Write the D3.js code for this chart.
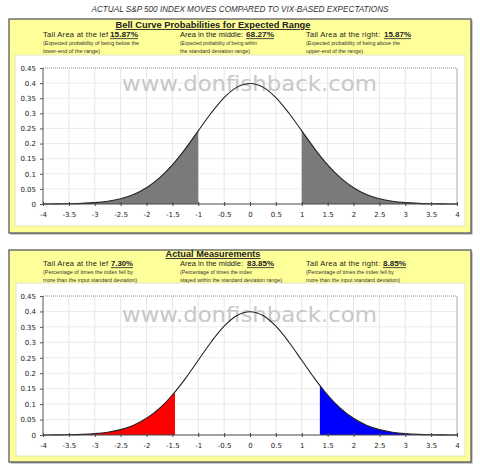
<!DOCTYPE html>
<html><head><meta charset="utf-8">
<script src="https://cdn.jsdelivr.net/npm/d3@7"></script>
<style>body{margin:0;background:#fff}svg{display:block}text{font-family:"DejaVu Sans",Verdana,sans-serif}.hd{font-family:"Liberation Sans",Arial,sans-serif}</style>
</head><body><svg id="c" width="480" height="469"></svg>
<script>
const mainTitle = "ACTUAL S&P 500 INDEX MOVES COMPARED TO VIX-BASED EXPECTATIONS";
const panelTitles = ["Bell Curve Probabilities for Expected Range", "Actual Measurements"];
const areaLabels = ["Tail Area at the lef", "Area in the middle:", "Tail Area at the right:"];
const expectedPct = ["15.87%", "68.27%", "15.87%"];
const actualPct = ["7.30%", "83.85%", "8.85%"];
const expectedNotes = [["(Expected probability of being below the", "lower-end of the range)"], ["(Expected probability of being within", "the standard deviation range)"], ["(Expected probability of being above the", "upper-end of the range)"]];
const actualNotes = [["(Percentage of times the index fell by", "more than the input standard deviation)"], ["(Percentage of times the index", "stayed within the standard deviation range)"], ["(Percentage of times the index fell by", "more than the input standard deviation)"]];
const xTickVals = [-4, -3.5, -3, -2.5, -2, -1.5, -1, -0.5, 0, 0.5, 1, 1.5, 2, 2.5, 3, 3.5, 4];
const yTickVals = [0, 0.05, 0.1, 0.15, 0.2, 0.25, 0.3, 0.35, 0.4, 0.45];
const curveX = [-4, -3.75, -3.5, -3.25, -3, -2.75, -2.5, -2.25, -2, -1.75, -1.5, -1.25, -1, -0.75, -0.5, -0.25, 0, 0.25, 0.5, 0.75, 1, 1.25, 1.5, 1.75, 2, 2.25, 2.5, 2.75, 3, 3.25, 3.5, 3.75, 4];
const curveY = [0.0001, 0.0004, 0.0009, 0.0020, 0.0044, 0.0091, 0.0175, 0.0317, 0.0540, 0.0863, 0.1295, 0.1826, 0.2420, 0.3011, 0.3521, 0.3867, 0.3989, 0.3867, 0.3521, 0.3011, 0.2420, 0.1826, 0.1295, 0.0863, 0.0540, 0.0317, 0.0175, 0.0091, 0.0044, 0.0020, 0.0009, 0.0004, 0.0001];
const expectedCuts = [-1, 1];
const actualCuts = [-1.45, 1.35];
const expectedFills = ["#7a7a7a", "#7a7a7a"];
const actualFills = ["#ff0000", "#0000ff"];
const watermark = "www.donfishback.com";

const svg = d3.select("#c");
svg.append("text").attr("class", "hd").attr("x", 240).attr("y", 12).attr("text-anchor", "middle")
  .attr("font-size", 8.5).attr("font-style", "italic").attr("fill", "#333")
  .attr("textLength", 297).attr("lengthAdjust", "spacingAndGlyphs").text(mainTitle);

const defs = svg.append("defs");
const pts = curveX.map((x, i) => ({x: x, y: curveY[i]}));

function drawPanel(o) {
  const g = svg.append("g");
  g.append("rect").attr("x", o.box[0] + 1.5).attr("y", o.box[1] + 1.5).attr("width", o.box[2]).attr("height", o.box[3])
    .attr("fill", "#999");
  g.append("rect").attr("x", o.box[0]).attr("y", o.box[1]).attr("width", o.box[2]).attr("height", o.box[3])
    .attr("fill", "#ffff99").attr("stroke", "#666").attr("stroke-width", 1.4);
  g.append("rect").attr("x", o.inner[0]).attr("y", o.inner[1]).attr("width", o.inner[2]).attr("height", o.inner[3])
    .attr("fill", "#fff").attr("stroke", "#e4e4c0").attr("stroke-width", 1);
  // header
  g.append("text").attr("class", "hd").attr("x", 213).attr("y", o.titleY).attr("text-anchor", "middle").attr("font-size", 9)
    .attr("font-weight", "bold").attr("fill", "#222").attr("text-decoration", "underline")
    .attr("textLength", o.titleW).attr("lengthAdjust", "spacingAndGlyphs").text(o.title);
  const colX = [43, 180, 306];
  const labW = [65, 63, 74];
  areaLabels.forEach((lab, i) => {
    g.append("text").attr("class", "hd").attr("x", colX[i]).attr("y", o.rowY).attr("font-size", 7.5).attr("fill", "#222")
      .attr("textLength", labW[i]).attr("lengthAdjust", "spacing").text(lab);
    g.append("text").attr("class", "hd").attr("x", o.valX[i]).attr("y", o.rowY).attr("font-size", 8).attr("font-weight", "bold")
      .attr("fill", "#222").attr("text-decoration", "underline")
      .attr("textLength", o.valW[i]).attr("lengthAdjust", "spacingAndGlyphs").text(o.pct[i]);
    o.notes[i].forEach((n, j) => {
      g.append("text").attr("class", "hd").attr("x", colX[i]).attr("y", o.noteY[j]).attr("font-size", 5).attr("fill", "#333")
        .attr("textLength", o.noteW[i][j]).attr("lengthAdjust", "spacingAndGlyphs").text(n);
    });
  });
  // plot
  const x = d3.scaleLinear().domain([-4, 4]).range([43, 457]);
  const y = d3.scaleLinear().domain([0, 0.45]).range([o.yBot, o.yTop]);
  // gridlines
  g.append("g").selectAll("line").data(xTickVals.slice(1, -1)).join("line")
    .attr("x1", d => x(d)).attr("x2", d => x(d)).attr("y1", y(0)).attr("y2", y(0.45))
    .attr("stroke", "#e6e6e6").attr("stroke-width", 1);
  g.append("g").selectAll("line").data(yTickVals.slice(1, -1)).join("line")
    .attr("x1", x(-4)).attr("x2", x(4)).attr("y1", d => y(d)).attr("y2", d => y(d))
    .attr("stroke", "#ebebeb").attr("stroke-width", 1);
  // plot borders
  g.append("line").attr("x1", x(-4)).attr("x2", x(4)).attr("y1", y(0.45)).attr("y2", y(0.45))
    .attr("stroke", "#888").attr("stroke-dasharray", "1,1");
  g.append("line").attr("x1", x(4)).attr("x2", x(4)).attr("y1", y(0.45)).attr("y2", y(0))
    .attr("stroke", "#aaa");
  // watermark
  g.append("text").attr("x", 122).attr("y", o.wmY).attr("font-size", 21).attr("fill", "#c8c8c8")
    .attr("textLength", 255).attr("lengthAdjust", "spacingAndGlyphs").text(watermark);
  // shaded tails
  const area = d3.area().x(d => x(d.x)).y0(y(0)).y1(d => y(d.y)).curve(d3.curveMonotoneX);
  const ranges = [[-4, o.cuts[0]], [o.cuts[1], 4]];
  ranges.forEach((r, i) => {
    const id = o.id + "clip" + i;
    defs.append("clipPath").attr("id", id).append("rect")
      .attr("x", x(r[0])).attr("y", y(0.45)).attr("width", x(r[1]) - x(r[0])).attr("height", y(0) - y(0.45) + 1);
    g.append("path").datum(pts).attr("d", area).attr("fill", o.fills[i]).attr("clip-path", `url(#${id})`);
  });
  // curve
  const line = d3.line().x(d => x(d.x)).y(d => y(d.y)).curve(d3.curveMonotoneX);
  g.append("path").datum(pts).attr("d", line).attr("fill", "none").attr("stroke", "#222").attr("stroke-width", 1.1);
  // axes
  const ax = g.append("g").attr("transform", `translate(0,${y(0)})`)
    .call(d3.axisBottom(x).tickValues(xTickVals).tickSize(3).tickFormat(d => String(d)));
  ax.select(".domain").attr("stroke", "#444").attr("d", `M${x(-4)},0H${x(4)}`);
  ax.selectAll(".tick line").attr("stroke", "#444").attr("y1", -2).attr("y2", 2);
  ax.selectAll(".tick text").attr("font-size", 7).attr("fill", "#222").attr("y", 8).attr("font-family", "DejaVu Sans");
  const ay = g.append("g").attr("transform", `translate(${x(-4)},0)`)
    .call(d3.axisLeft(y).tickValues(yTickVals).tickSize(3).tickFormat(d => String(+d.toFixed(2))));
  ay.select(".domain").attr("stroke", "#555").attr("d", `M0,${y(0)}V${y(0.45)}`);
  ay.selectAll(".tick line").attr("stroke", "#555");
  ay.selectAll(".tick text").attr("font-size", 7).attr("fill", "#222").attr("x", -7).attr("font-family", "DejaVu Sans");
}

drawPanel({
  id: "a", box: [9, 19, 462, 214], inner: [15, 55, 450, 171], title: panelTitles[0], titleW: 195, titleY: 28,
  rowY: 37.3, noteY: [44.8, 52.6], pct: expectedPct, valX: [110, 246, 384], valW: [28, 28, 27],
  notes: expectedNotes, noteW: [[96, 57], [77, 70], [94, 57]],
  yTop: 68, yBot: 204, wmY: 91, cuts: expectedCuts, fills: expectedFills
});
drawPanel({
  id: "b", box: [9, 250, 462, 212], inner: [16, 283, 449, 173], title: panelTitles[1], titleW: 95, titleY: 257,
  rowY: 266.3, noteY: [274.3, 282.2], pct: actualPct, valX: [111, 247, 383], valW: [22, 27, 23],
  notes: actualNotes, noteW: [[90, 94], [72, 102], [88, 94]],
  yTop: 296, yBot: 435, wmY: 322, cuts: actualCuts, fills: actualFills
});
</script></body></html>
